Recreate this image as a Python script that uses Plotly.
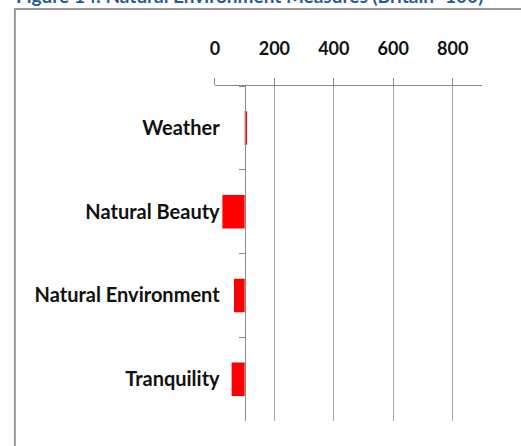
import plotly.graph_objects as go

categories = ["Weather", "Natural Beauty", "Natural Environment", "Tranquility"]
values = [108, 25, 64, 56]
baseline = 100
x_ticks = [0, 200, 400, 600, 800]
title_text = "Figure 14: Natural Environment Measures (Britain=100)"

W, H = 521, 446
FONT = "Lato"

fig = go.Figure()
fig.add_trace(go.Bar(
    y=categories,
    x=[v - baseline for v in values],
    base=[baseline] * len(values),
    orientation="h",
    marker=dict(color="#FF0000", line=dict(width=0)),
    width=0.4,
    hoverinfo="skip",
))

px_left, px_right = 212, 482
px_top, px_bottom = 86, 421
axis_x_px = px_left + (baseline - 0) / 900 * (px_right - px_left)

fig.update_layout(
    width=W, height=H,
    margin=dict(l=0, r=0, t=0, b=0),
    paper_bgcolor="white",
    plot_bgcolor="white",
    showlegend=False,
    bargap=0.6,
    xaxis=dict(
        domain=[px_left / W, px_right / W],
        range=[0, 900],
        side="top",
        tickvals=x_ticks,
        showgrid=True,
        gridcolor="#A6A6A6",
        gridwidth=1,
        showline=True,
        linecolor="#8C8C8C",
        linewidth=1,
        ticks="outside",
        ticklen=7,
        tickcolor="#8C8C8C",
        zeroline=False,
        tickfont=dict(family=FONT, size=18, color="#111111", weight="bold"),
        ticklabelstandoff=16,
    ),
    yaxis=dict(
        domain=[(H - px_bottom) / H, (H - px_top) / H],
        type="category",
        categoryorder="array",
        categoryarray=categories,
        autorange="reversed",
        anchor="free",
        position=axis_x_px / W,
        showgrid=False,
        showline=True,
        linecolor="#8C8C8C",
        linewidth=1,
        ticks="outside",
        tickson="boundaries",
        ticklen=6,
        tickcolor="#8C8C8C",
        ticklabelstandoff=21,
        tickfont=dict(family=FONT, size=20, color="#111111", weight="bold"),
        zeroline=False,
    ),
)

# outer frame
fig.add_shape(type="rect", xref="paper", yref="paper",
              x0=10 / W, x1=1.05, y0=-0.05, y1=(H - 9) / H,
              line=dict(color="#9A9A9A", width=2), fillcolor="rgba(0,0,0,0)", layer="below")

fig.add_annotation(
    text=title_text, xref="paper", yref="paper",
    x=9 / W, y=(H - 9) / H, xanchor="left", yanchor="bottom",
    showarrow=False,
    font=dict(family=FONT, size=19, color="#1F5C99", weight="bold"),
)

fig.write_html("out.html", config={"displayModeBar": False},
               post_script="document.body.style.margin='0';document.body.style.padding='0';")
